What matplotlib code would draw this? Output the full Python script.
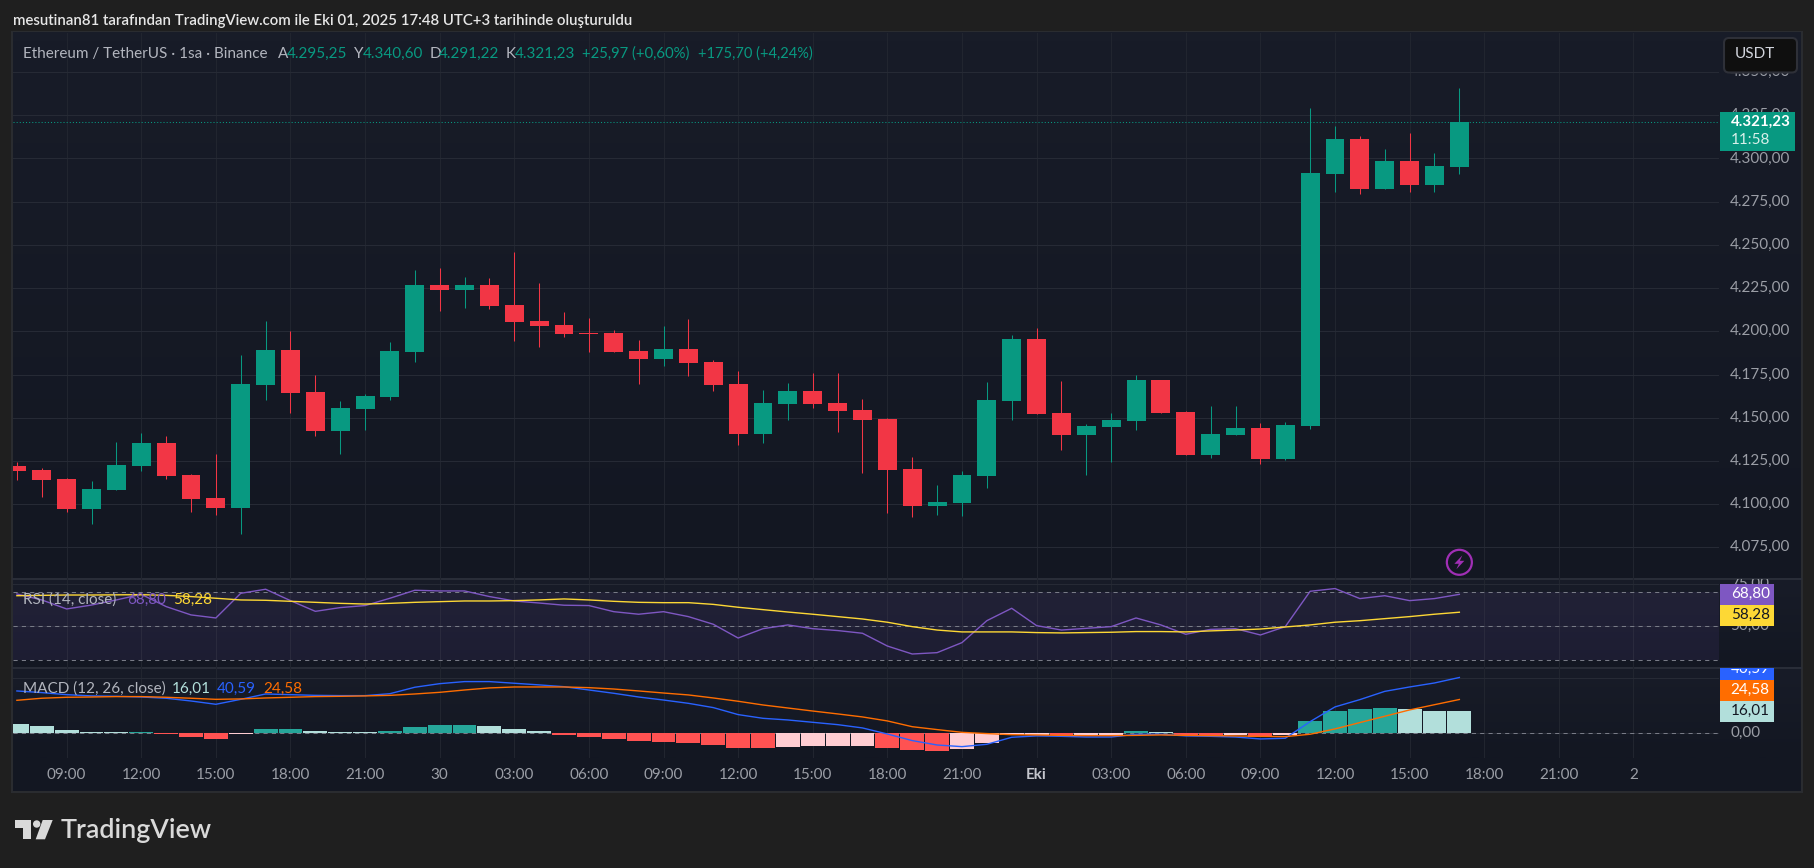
import matplotlib
matplotlib.use('Agg')
import matplotlib.pyplot as plt
from matplotlib.colors import LinearSegmentedColormap
from matplotlib.patches import Rectangle, FancyBboxPatch, Polygon, Circle
from matplotlib.ticker import FuncFormatter, FixedLocator
import numpy as np

W, H = 1814, 868
FONT = 'Lato'
plt.rcParams['font.family'] = [FONT, 'DejaVu Sans']
plt.rcParams['ytick.alignment'] = 'center'

# hourly candles
opens = [4122.1, 4119.8, 4114.5, 4097.2, 4108.2, 4122.1, 4135.4, 4116.9, 4103.5, 4097.8,
         4168.9, 4189.2, 4164.9, 4142.3, 4155.1, 4162.0, 4188.0, 4226.7, 4223.8, 4226.7,
         4215.2, 4206.0, 4203.7, 4199.0, 4199.0, 4188.6, 4184.0, 4189.8, 4182.3, 4169.5,
         4140.6, 4158.0, 4165.5, 4158.5, 4154.5, 4149.3, 4120.3, 4098.9, 4100.7, 4116.3,
         4159.7, 4195.6, 4152.7, 4140.0, 4144.6, 4148.1, 4171.8, 4153.3, 4128.4, 4140.0,
         4144.1, 4126.1, 4145.2, 4290.9, 4311.2, 4282.3, 4298.5, 4284.6, 4295.25]
highs = [4124.4, 4120.9, 4115.1, 4113.4, 4136.0, 4141.2, 4139.4, 4117.4, 4129.0, 4186.3,
         4206.0, 4200.2, 4174.7, 4159.7, 4163.7, 4193.8, 4235.4, 4236.5, 4231.3, 4230.8,
         4245.8, 4227.9, 4211.2, 4207.7, 4200.8, 4195.0, 4203.1, 4207.1, 4183.4, 4177.0,
         4166.0, 4170.1, 4175.9, 4175.9, 4160.8, 4149.8, 4127.3, 4111.1, 4119.2, 4170.7,
         4197.9, 4201.9, 4171.3, 4146.4, 4152.7, 4174.7, 4171.8, 4153.9, 4156.8, 4156.8,
         4147.0, 4147.5, 4329.1, 4318.7, 4312.9, 4305.4, 4314.7, 4303.1, 4340.6]
lows = [4114.0, 4104.1, 4095.4, 4088.5, 4108.2, 4119.2, 4114.5, 4095.4, 4093.7, 4082.7,
        4160.3, 4152.7, 4139.4, 4129.0, 4142.9, 4160.3, 4182.3, 4211.8, 4213.5, 4212.9,
        4194.4, 4190.9, 4196.7, 4188.0, 4188.0, 4169.5, 4179.9, 4174.2, 4165.5, 4134.2,
        4135.4, 4148.7, 4155.6, 4141.7, 4118.0, 4094.9, 4092.6, 4093.7, 4093.1, 4109.3,
        4148.7, 4152.2, 4131.3, 4116.9, 4124.4, 4142.9, 4152.7, 4128.4, 4126.7, 4140.0,
        4123.2, 4125.5, 4143.5, 4280.5, 4279.4, 4282.3, 4280.5, 4280.5, 4291.22]
closes = [4119.2, 4114.0, 4097.2, 4108.8, 4122.6, 4135.4, 4116.3, 4103.0, 4097.8, 4169.5,
          4189.2, 4164.3, 4142.3, 4155.6, 4162.6, 4188.6, 4226.7, 4223.8, 4226.7, 4214.7,
          4205.4, 4203.1, 4198.5, 4198.5, 4188.0, 4184.0, 4189.8, 4181.7, 4168.9, 4140.6,
          4158.5, 4165.5, 4158.0, 4153.9, 4148.7, 4119.8, 4098.9, 4101.2, 4116.9, 4160.3,
          4195.6, 4152.2, 4140.0, 4145.2, 4148.7, 4171.8, 4152.7, 4128.4, 4140.6, 4144.1,
          4126.1, 4145.8, 4291.5, 4311.2, 4282.3, 4298.5, 4284.6, 4295.6, 4321.23]

rsi = [69.0, 65.5, 60.2, 62.5, 65.5, 68.8, 61.6, 56.7, 54.9, 69.4, 71.8, 65.1, 58.8, 61.0, 62.2,
       66.5, 71.2, 70.8, 70.8, 67.5, 64.9, 63.7, 62.4, 62.2, 58.6, 57.1, 58.6, 55.7, 51.2, 43.1,
       48.6, 50.8, 48.6, 47.5, 45.9, 38.4, 33.7, 34.5, 40.4, 53.3, 60.6, 50.4, 47.8, 48.8, 49.8,
       54.9, 50.8, 45.3, 48.2, 48.6, 44.9, 49.8, 70.6, 72.2, 66.3, 68.0, 65.1, 66.3, 68.80]
rsi_ma = [68.0, 68.2, 68.4, 68.4, 68.5, 68.6, 68.2, 67.5, 66.5, 65.5, 65.3, 64.7, 64.1, 63.5, 63.1,
          63.5, 64.1, 64.5, 64.9, 64.9, 65.1, 65.5, 66.1, 65.5, 64.7, 64.1, 63.9, 63.9, 62.9, 61.2,
          59.8, 58.4, 57.1, 55.7, 54.3, 52.4, 49.8, 47.8, 46.7, 46.7, 46.7, 46.3, 46.1, 46.3, 46.5,
          46.9, 46.9, 46.7, 47.3, 47.8, 48.4, 49.6, 50.8, 52.4, 53.3, 54.5, 55.7, 57.1, 58.28]

macd = [30.8, 29.6, 28.1, 27.2, 26.9, 26.4, 25.5, 23.5, 21.1, 24.7, 28.6, 28.1, 27.6, 27.4, 27.4,
        28.8, 33.5, 36.1, 37.6, 37.6, 36.4, 35.2, 33.9, 31.5, 29.1, 26.4, 24.2, 21.8, 18.7, 13.6,
        10.9, 9.7, 8.0, 6.3, 3.9, -0.5, -5.3, -8.5, -9.7, -8.0, -2.9, -1.9, -2.2, -2.7, -2.7,
        -0.7, -0.7, -1.9, -2.2, -2.7, -4.1, -3.6, 8.5, 19.2, 24.5, 30.5, 33.7, 36.6, 40.59]
signal = [24.0, 25.5, 26.2, 26.4, 26.7, 26.7, 26.2, 25.5, 24.7, 25.0, 25.7, 26.2, 26.7, 26.9, 27.2,
          27.6, 28.6, 29.8, 31.5, 33.0, 33.7, 33.7, 33.7, 33.2, 32.2, 30.8, 29.3, 27.9, 25.7, 23.3,
          20.6, 18.4, 16.2, 14.1, 11.9, 9.0, 4.8, 2.7, 0.7, -0.2, -1.0, -1.2, -1.5, -1.7, -1.7,
          -1.5, -1.2, -1.5, -1.7, -1.9, -2.2, -2.4, -0.7, 3.2, 7.8, 12.4, 17.0, 20.8, 24.58]
hist = [6.8, 5.3, 2.4, 1.0, 0.9, 1.0, -0.5, -2.7, -4.1, -0.5, 3.2, 3.3, 1.7, 1.0, 0.9,
        1.7, 4.6, 6.1, 6.2, 5.3, 3.2, 1.7, -1.2, -2.7, -4.1, -5.6, -6.3, -7.0, -8.5, -10.7,
        -10.8, -10.0, -9.2, -9.1, -9.0, -10.6, -12.1, -12.8, -11.4, -7.0, -1.5, -1.4, -1.5, -1.2, -1.1,
        1.7, 1.0, -1.9, -2.0, -1.4, -2.7, -1.4, 9.0, 16.2, 17.7, 18.4, 17.7, 16.2, 16.01]

time_labels = ['09:00', '12:00', '15:00', '18:00', '21:00', '30', '03:00', '06:00', '09:00',
               '12:00', '15:00', '18:00', '21:00', 'Eki', '03:00', '06:00', '09:00', '12:00',
               '15:00', '18:00', '21:00', '2']
price_ticks = [4075, 4100, 4125, 4150, 4175, 4200, 4225, 4250, 4275, 4300, 4325, 4350]
rsi_ticks = [75, 50]
macd_ticks = [40, 0]

UP = '#089981'
DOWN = '#f23645'
GRID = '#262a35'
BG = '#1f1f1f'
TXT = '#b2b5be'
AXTXT = '#9b9ea6'

# pixel layout
LEFT, RIGHT, SCALE = 13, 1719, 1801
TOP, SEP1, SEP2, PLOT_BOT, BOT = 33, 579.3, 668.3, 757.7, 791
BAR_PX = 24.87
X0_PX = 16.9


def box(y0, y1, z=1):
    a = fig.add_axes([LEFT / W, 1 - y1 / H, (RIGHT - LEFT) / W, (y1 - y0) / H], zorder=z)
    a.patch.set_alpha(0)
    a.set_xlim((LEFT - X0_PX) / BAR_PX, (RIGHT - X0_PX) / BAR_PX)
    for s in a.spines.values():
        s.set_visible(False)
    a.yaxis.tick_right()
    a.tick_params(axis='y', length=0, pad=8, labelsize=11, labelcolor=AXTXT)
    a.tick_params(axis='x', length=0, labelbottom=False)
    a.xaxis.set_major_locator(FixedLocator(np.arange(len(time_labels)) * 3 + 2))
    a.xaxis.grid(True, color='#21252f', linewidth=0.75)
    a.yaxis.grid(True, color=GRID, linewidth=0.75)
    a.set_axisbelow(True)
    return a


def comma():
    def f(v, _):
        return f'{v:,.2f}'.replace(',', 'X').replace('.', ',').replace('X', '.')
    return FuncFormatter(f)


fig = plt.figure(figsize=(W / 100, H / 100), dpi=100, facecolor=BG)

# background: frame and pane gradients, in pixels
bg = fig.add_axes([0, 0, 1, 1], zorder=0)
bg.set_xlim(0, W)
bg.set_ylim(H, 0)
bg.axis('off')
bg.add_patch(Rectangle((LEFT - 2, TOP - 2), SCALE - LEFT + 4, BOT - TOP + 4, color='#2a2c30', linewidth=0))
cmap = LinearSegmentedColormap.from_list('pane', ['#181c28', '#131722'])
grad = np.linspace(0, 1, 64).reshape(-1, 1)
for y0, y1 in [(TOP, SEP1), (SEP1, SEP2), (SEP2, PLOT_BOT)]:
    bg.imshow(grad, extent=(LEFT, SCALE, y1, y0), aspect='auto', cmap=cmap, zorder=1)
bg.add_patch(Rectangle((LEFT, PLOT_BOT), SCALE - LEFT, BOT - PLOT_BOT, color='#131722', linewidth=0, zorder=1))
bg.set_xlim(0, W)
bg.set_ylim(H, 0)
for y in (SEP1, SEP2):
    bg.plot([LEFT, SCALE], [y, y], color='#2a2e39', linewidth=1.4, zorder=2)

x = np.arange(len(closes))

# price pane
ax = box(TOP, SEP1)
ax.set_ylim(4200 - (SEP1 - 331.3) / 1.728, 4200 + (331.3 - TOP) / 1.728)
ax.yaxis.set_major_locator(FixedLocator(price_ticks))
ax.yaxis.set_major_formatter(comma())
colors = [UP if c >= o else DOWN for o, c in zip(opens, closes)]
ax.vlines(x, lows, highs, colors=colors, linewidth=0.75, zorder=3)
bottoms = np.minimum(opens, closes)
ax.bar(x, np.abs(np.array(closes) - np.array(opens)), bottom=bottoms, width=0.76, color=colors, linewidth=0, zorder=4)
ax.axhline(closes[-1], color=UP, linewidth=0.75, linestyle=(0, (1, 2)), zorder=5)

# rsi pane
ax2 = box(SEP1, SEP2)
ax2.set_ylim(50 - (SEP2 - 626.3) / 1.7, 50 + (626.3 - SEP1) / 1.7)
ax2.yaxis.set_major_locator(FixedLocator(rsi_ticks))
ax2.yaxis.set_major_formatter(comma())
ax2.axhspan(30, 70, color='#7e57c2', alpha=0.1, linewidth=0, zorder=1)
for lvl in (70, 50, 30):
    ax2.axhline(lvl, color='#787b86', linewidth=0.75, linestyle=(0, (4, 4)), zorder=2)
ax2.plot(x, rsi, color='#7e57c2', linewidth=1.0, zorder=3)
ax2.plot(x, rsi_ma, color='#fdd835', linewidth=1.0, zorder=4)
# the 75 label is cut off by the pane edge
pane_clip = Rectangle((LEFT / W, 1 - SEP2 / H), (SCALE - LEFT) / W, (SEP2 - SEP1) / H, transform=fig.transFigure)
for lab in ax2.get_yticklabels():
    lab.set_clip_on(True)
    lab.set_clip_path(pane_clip)

# macd pane
ax3 = box(SEP2, PLOT_BOT)
ax3.set_ylim(-(PLOT_BOT - 733.3) / 1.375, (733.3 - SEP2) / 1.375)
ax3.yaxis.set_major_locator(FixedLocator(macd_ticks))
ax3.yaxis.set_major_formatter(comma())
hist_colors = []
for i, h in enumerate(hist):
    prev = hist[i - 1] if i else h + 1
    if h >= 0:
        hist_colors.append('#26a69a' if h > prev else '#b2dfdb')
    else:
        hist_colors.append('#ff5252' if h < prev else '#ffcdd2')
ax3.axhline(0, color='#787b86', linewidth=0.75, linestyle=(0, (4, 4)), zorder=2)
ax3.bar(x, hist, width=0.96, color=hist_colors, linewidth=0, zorder=3)
ax3.plot(x, macd, color='#2962ff', linewidth=1.0, zorder=4)
ax3.plot(x, signal, color='#ff6d00', linewidth=1.0, zorder=5)

# time axis
ax3.tick_params(axis='x', labelbottom=True, labelsize=11, labelcolor=AXTXT, pad=7.7)
ax3.set_xticklabels(time_labels)
for lab in ax3.get_xticklabels():
    if lab.get_text() == 'Eki':
        lab.set_fontweight('bold')
        lab.set_color('#c4c6cd')

# overlay in pixels: legends, tags, logo
ov = fig.add_axes([0, 0, 1, 1], zorder=10)
ov.set_xlim(0, W)
ov.set_ylim(H, 0)
ov.axis('off')


def put(px, py, s, color=TXT, size=11, **kw):
    return ov.text(px, py, s, color=color, fontsize=size, va='center', ha='left', **kw)


put(13, 20.5, 'mesutinan81 tarafından TradingView.com ile Eki 01, 2025 17:48 UTC+3 tarihinde oluşturuldu',
    color='#e6e6e6', size=10.8, fontweight='semibold')

LEG_Y = 53.7
put(23, LEG_Y, 'Ethereum / TetherUS · 1sa · Binance')
for px, lab, px2, val in [(278, 'A', 287, '4.295,25'), (353.6, 'Y', 362.8, '4.340,60'),
                          (429.4, 'D', 439, '4.291,22'), (506, 'K', 515, '4.321,23')]:
    put(px, LEG_Y, lab)
    put(px2, LEG_Y, val, color=UP)
put(582, LEG_Y, '+25,97 (+0,60%)', color=UP, size=10.7)
put(697.5, LEG_Y, '+175,70 (+4,24%)', color=UP, size=10.5)

put(23, 600, 'RSI (14, close)')
put(127.4, 600, '68,80', color='#7e57c2')
put(173.4, 600, '58,28', color='#fdd835')

put(23, 688.7, 'MACD (12, 26, close)')
put(171.6, 688.7, '16,01', color='#b2dfdb')
put(217, 688.7, '40,59', color='#2962ff')
put(263, 688.7, '24,58', color='#ff6d00')

# usdt button
ov.add_patch(FancyBboxPatch((1726, 40), 69, 30.5, boxstyle='round,pad=2,rounding_size=5',
                            facecolor='#0f0f0f', edgecolor='#2e3038', linewidth=1.5))
put(1734.7, 54, 'USDT', color='#d1d4dc')

# last price tag
ov.add_patch(Rectangle((1720, 112), 75, 38.7, color=UP, linewidth=0))
put(1730.7, 122, '4.321,23', color='white', fontweight='bold', size=10.8)
put(1730.7, 140, '11:58', color='#d8f0ea')

# indicator tags
clip = Rectangle((1700, SEP2 + 0.8), 114, 80, transform=ov.transData)
for y0, y1, col, s, tc, cy in [(584, 605, '#7e57c2', '68,80', 'white', 594),
                               (605, 625.7, '#fdd835', '58,28', '#131722', 615),
                               (668, 680, '#2962ff', '40,59', 'white', 669),
                               (680, 701, '#ff6d00', '24,58', 'white', 690),
                               (701, 722, '#b2dfdb', '16,01', '#131722', 711)]:
    ov.add_patch(Rectangle((1720, y0), 54, y1 - y0, color=col, linewidth=0))
    t = put(1730.7, cy, s, color=tc)
    if s == '40,59':
        t.set_clip_on(True)
        t.set_clip_path(clip)

# bolt marker on the last bar
mx = X0_PX + x[-1] * BAR_PX
my = 562.3
ov.add_patch(Circle((mx, my), 12.5, facecolor='none', edgecolor='#a02fb5', linewidth=1.6))
ov.add_patch(Polygon([(mx + 3, my - 7), (mx - 5, my + 1.5), (mx - 0.5, my + 1.5), (mx - 3, my + 7),
                      (mx + 5, my - 1.5), (mx + 0.5, my - 1.5)], closed=True, color='#a02fb5', linewidth=0))

# logo
LOGO = '#d9d9d9'
ov.add_patch(Polygon([(15, 820), (31, 820), (31, 839.3), (23.3, 839.3), (23.3, 828.3), (15, 828.3)],
                     closed=True, color=LOGO, linewidth=0))
ov.add_patch(Circle((36.7, 824), 3.7, color=LOGO, linewidth=0))
ov.add_patch(Polygon([(42.7, 820), (52.7, 820), (45, 839.3), (35.7, 839.3)], closed=True, color=LOGO, linewidth=0))
put(61, 830.5, 'TradingView', color=LOGO, size=19.4, fontweight='semibold')

fig.savefig('out.png', dpi=100, facecolor=BG)
